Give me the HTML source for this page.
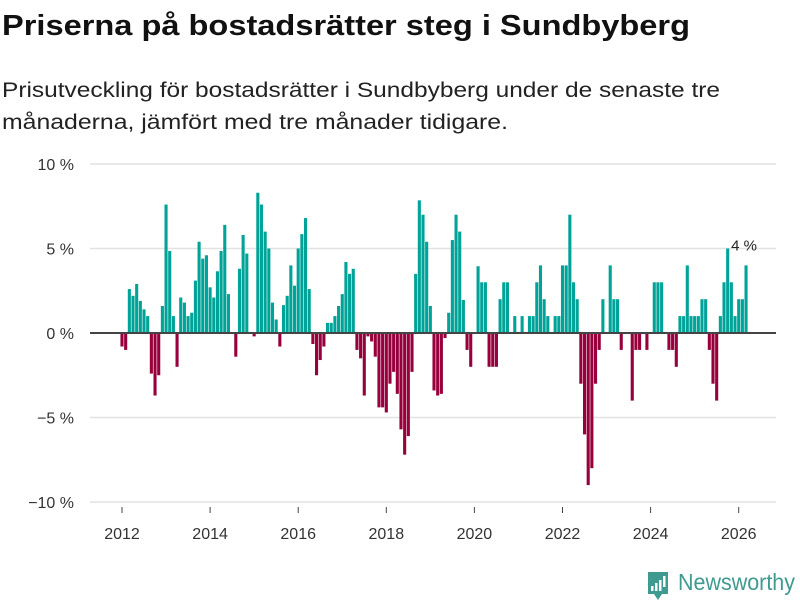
<!DOCTYPE html>
<html><head><meta charset="utf-8"><style>
body{margin:0;width:800px;height:600px;background:#fff;font-family:"Liberation Sans","DejaVu Sans",sans-serif;overflow:hidden;position:relative}
svg{position:absolute;left:0;top:0}
</style></head><body>
<svg width="800" height="160">
<text x="2" y="35" font-size="29" font-weight="bold" fill="#111" textLength="688" lengthAdjust="spacingAndGlyphs">Priserna på bostadsrätter steg i Sundbyberg</text>
<text x="2" y="97" font-size="21" fill="#222" textLength="718" lengthAdjust="spacingAndGlyphs">Prisutveckling för bostadsrätter i Sundbyberg under de senaste tre</text>
<text x="2" y="129" font-size="21" fill="#222" textLength="506" lengthAdjust="spacingAndGlyphs">månaderna, jämfört med tre månader tidigare.</text>
</svg>
<svg id="chart" width="800" height="600"></svg>
<script>
const startYear = 2012;
const values = [-0.8,-1.0,2.6,2.2,2.9,1.9,1.4,1.0,-2.4,-3.7,-2.5,1.6,7.6,4.85,1.0,-2.0,2.1,1.8,1.0,1.2,3.1,5.4,4.4,4.6,2.7,2.1,3.65,4.85,6.4,2.3,0,-1.4,3.8,5.8,4.7,0,-0.2,8.3,7.6,6.0,5.0,1.8,0.8,-0.8,1.65,2.2,4.0,2.8,5.0,5.85,6.8,2.6,-0.65,-2.5,-1.6,-0.8,0.6,0.6,1.0,1.6,2.3,4.2,3.5,3.8,-1.0,-1.5,-3.7,-0.2,-0.5,-1.4,-4.4,-4.4,-4.7,-3.0,-2.3,-3.6,-5.7,-7.2,-6.1,-2.3,3.5,7.85,7.0,5.4,1.6,-3.4,-3.7,-3.6,-0.3,1.2,5.5,7.0,6.0,1.95,-1.0,-2.0,0,3.95,3.0,3.0,-2.0,-2.0,-2.0,2.0,3.0,3.0,0,1.0,0,1.0,0,1.0,1.0,3.0,4.0,2.0,1.0,0,1.0,1.0,4.0,4.0,7.0,3.0,2.0,-3.0,-6.0,-9.0,-8.0,-3.0,-1.0,2.0,0,4.0,2.0,2.0,-1.0,0,0,-4.0,-1.0,-1.0,0,-1.0,0,3.0,3.0,3.0,0,-1.0,-1.0,-2.0,1.0,1.0,4.0,1.0,1.0,1.0,2.0,2.0,-1.0,-3.0,-4.0,1.0,3.0,5.0,3.0,1.0,2.0,2.0,4.0];
const yTicks = [10,5,0,-5,-10];
const yTickLabels = ["10 %","5 %","0 %","\u22125 %","\u221210 %"];
const xTicks = [2012,2014,2016,2018,2020,2022,2024,2026];
const lastLabel = "4 %";

const NS="http://www.w3.org/2000/svg";
const svg=document.getElementById('chart');
const y=v=>333-v*16.9;
const x=yr=>122+(yr-2012)*44.05;
function mk(tag,attrs,parent){const e=document.createElementNS(NS,tag);for(const k in attrs)e.setAttribute(k,attrs[k]);(parent||svg).appendChild(e);return e;}
yTicks.forEach((t,i)=>{
  if(t!==0){const g=mk('line',{x1:90,x2:776,y1:y(t),y2:y(t),stroke:'#e2e2e2','stroke-width':1.5});
  
  }
  const tx=mk('text',{x:74,y:y(t)+6,'text-anchor':'end','font-size':16,fill:'#333'});
  tx.textContent=yTickLabels[i];
  
  
});
xTicks.forEach(t=>{
  const l=mk('line',{x1:x(t),x2:x(t),y1:507,y2:513,stroke:'#444','stroke-width':1});
  
  
  const tx=mk('text',{x:x(t),y:539,'text-anchor':'middle','font-size':16,fill:'#333'});
  tx.textContent=t;
  
  
});
values.forEach((v,i)=>{
  if(v===0)return;
  const cx=x(startYear+i/12);
  const r=mk('rect',{x:cx-1.55,width:3.1,y:Math.min(y(v),333),height:Math.abs(y(v)-333),fill:v>0?'#00a398':'#97003c'});
  
  
});
const z=mk('line',{x1:90,x2:776,y1:333,y2:333,stroke:'#444','stroke-width':2});


const li=values.length-1;
const lt=mk('text',{x:x(startYear+li/12)-2,y:y(values[li])-15,'text-anchor':'middle','font-size':15,fill:'#222'});
lt.textContent=lastLabel;


</script>
<svg width="800" height="600" style="pointer-events:none">
<path d="M648 572 h20 v22 h-6 l-4 6 l-4 -6 h-6 z" fill="#3f9a90"/>
<rect x="651" y="586" width="2.5" height="5" fill="#fff"/><rect x="655" y="583" width="2.5" height="8" fill="#fff"/><rect x="659" y="580" width="2.5" height="11" fill="#fff"/><rect x="663" y="576" width="2.5" height="11" fill="#fff"/>
<text x="678" y="590" font-size="23" fill="#3f9a90" font-family="Liberation Sans, sans-serif" textLength="117" lengthAdjust="spacingAndGlyphs">Newsworthy</text>
</svg>
</body></html>
